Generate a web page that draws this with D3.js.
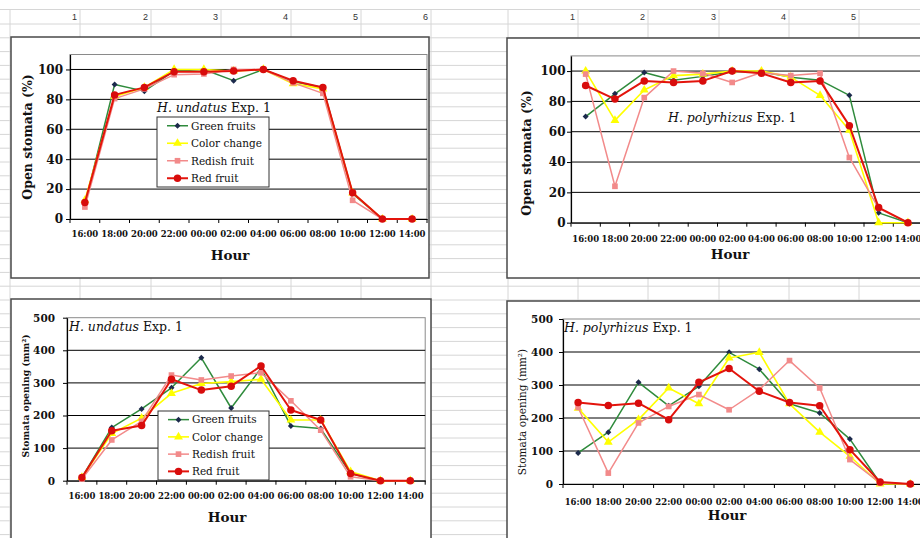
<!DOCTYPE html>
<html><head><meta charset="utf-8">
<script src="https://cdn.jsdelivr.net/npm/d3@7"></script>
<style>body{margin:0;background:#fff;} svg{display:block;}</style>
</head><body>
<svg id="c" width="920" height="538"></svg>
<script>
const hours = ["16:00","18:00","20:00","22:00","00:00","02:00","04:00","06:00","08:00","10:00","12:00","14:00"];
const seriesNames = ["Green fruits","Color change","Redish fruit","Red fruit"];
const sheetColumnLabels = ["1","2","3","4","5","6"];

// H. undatus, open stomata (%)
const undatusOpenGreen  = [10, 90, 85.5, 99, 100, 92.5, 100, 92, 88, 17, 0, 0];
const undatusOpenColor  = [12.5, 82, 88, 100, 100, 99, 100, 90.5, 87, 17.5, 0, 0];
const undatusOpenRedish = [8, 80.5, 87, 96.5, 97, 100, 100, 91, 84, 12.5, 0, 0];
const undatusOpenRed    = [11, 83, 88, 98.5, 98.5, 99, 100, 92.5, 88, 17.5, 0, 0];

// H. polyrhizus, open stomata (%)
const polyOpenGreen  = [70, 85, 99, 94, 96.5, 99.5, 99.5, 96, 94, 84, 6.5, 0];
const polyOpenColor  = [100, 67.5, 87.5, 97, 98, 100, 100, 96, 84, 61, 0, 0];
const polyOpenRedish = [98, 24, 82.5, 100, 98.5, 92.5, 99, 97, 98.5, 43, 9.5, 0];
const polyOpenRed    = [90.5, 81.5, 93.5, 92.5, 93.5, 100, 98.5, 92.5, 93.5, 64, 10, 0];

// H. undatus, stomata opening (mm2)
const undatusAreaGreen  = [10, 163, 220, 285, 377, 223, 345, 168, 160, 22, 0, 0];
const undatusAreaColor  = [10, 145, 192, 268, 298, 304, 311, 186, 186, 28, 0, 0];
const undatusAreaRedish = [5, 125, 182, 324, 309, 321, 331, 245, 155, 12, 0, 0];
const undatusAreaRed    = [10, 153, 169, 311, 278, 290, 352, 217, 186, 22, 0, 0];

// H. polyrhizus, stomata opening (mm2)
const polyAreaGreen  = [94, 157, 308, 237, 296, 399, 348, 243, 215, 136, 3, 0];
const polyAreaColor  = [230, 127, 195, 291, 243, 382, 399, 243, 157, 84, 0, 0];
const polyAreaRedish = [232, 33, 185, 235, 271, 225, 286, 374, 291, 74, 3, 0];
const polyAreaRed    = [247, 238, 245, 195, 308, 350, 281, 247, 237, 104, 6, 0];

const pctTicks = [0, 20, 40, 60, 80, 100];
const areaTicks = [0, 100, 200, 300, 400, 500];

const styles = [
  {line:"#2f8b3c", fill:"#1c2a4c", sym:d3.symbolSquare, rot:45, size:18, w:1.5},
  {line:"#ffff00", fill:"#ffff00", sym:d3.symbolTriangle, rot:0, size:34, w:1.6},
  {line:"#f28a8a", fill:"#f28a8a", sym:d3.symbolSquare, rot:0, size:32, w:1.5},
  {line:"#e3140c", fill:"#d80c0c", sym:d3.symbolCircle, rot:0, size:44, w:2}
];

const SERIF = "'DejaVu Serif', serif";
const svg = d3.select("#c");

// ---------- spreadsheet background ----------
const sheet = svg.append("g");
const rowYs = d3.range(24, 540, 13.8);
const colXs = [10, 80, 151, 221, 291, 361, 431, 508, 578, 648, 719, 789, 859];
sheet.selectAll(".row").data([9.5].concat(rowYs)).join("line")
  .attr("x1", 0).attr("x2", 920).attr("y1", d => d).attr("y2", d => d)
  .attr("stroke", "#d6d6d6").attr("stroke-width", 1);
sheet.selectAll(".col").data(colXs).join("line")
  .attr("x1", d => d).attr("x2", d => d).attr("y1", 9.5).attr("y2", 538)
  .attr("stroke", "#d6d6d6").attr("stroke-width", 1);
const headerRight = [80, 151, 221, 291, 361, 431, 578, 648, 719, 789, 859];
const headerText = sheetColumnLabels.concat(sheetColumnLabels.slice(0, 5));
sheet.selectAll(".hd").data(headerRight).join("text")
  .attr("x", d => d - 3).attr("y", 20).attr("text-anchor", "end")
  .attr("font-family", "Arial, 'Liberation Sans', sans-serif").attr("font-size", 9)
  .attr("fill", "#333").text((d, i) => headerText[i]);

// ---------- charts ----------
const charts = [
  {box:[11,37,418,241], left:70, bw:29.75, yTop:54.5, yBase:219, ymax:110, ticks:pctTicks,
   data:[undatusOpenGreen, undatusOpenColor, undatusOpenRedish, undatusOpenRed],
   yLabelSize:12, yPad:3, xPad:12, yTitle:"Open stomata (%)", yTitleBold:true, yTitleSize:12.5,
   yTitlePos:[31.5,137], hourPos:[230,260], species:"H. undatus", titlePos:[157,112], legend:[157,117,112,70]},
  {box:[507,38,440,240], left:571, bw:29.3, yTop:55.9, yBase:222.7, ymax:110, ticks:pctTicks,
   data:[polyOpenGreen, polyOpenColor, polyOpenRedish, polyOpenRed],
   yLabelSize:12, yPad:1.5, xPad:13.3, yTitle:"Open stomata (%)", yTitleBold:true, yTitleSize:12.5,
   yTitlePos:[531,153], hourPos:[730,259], species:"H. polyrhizus", titlePos:[668,122], legend:null},
  {box:[11,299,420,260], left:67, bw:29.85, yTop:317.7, yBase:480.7, ymax:500, ticks:areaTicks,
   data:[undatusAreaGreen, undatusAreaColor, undatusAreaRedish, undatusAreaRed],
   yLabelSize:10.5, yPad:8, xPad:12.3, yTitle:"Stomata opening (mm²)", yTitleBold:true, yTitleSize:9.2,
   yTitlePos:[29,396], hourPos:[227,522], species:"H. undatus", titlePos:[69,331], legend:[158,411,111,69]},
  {box:[507,301,440,260], left:563, bw:30.2, yTop:319, yBase:484, ymax:500, ticks:areaTicks,
   data:[polyAreaGreen, polyAreaColor, polyAreaRedish, polyAreaRed],
   yLabelSize:10.5, yPad:6, xPad:15, yTitle:"Stomata opening (mm²)", yTitleBold:false, yTitleSize:10.5,
   yTitlePos:[526,412], hourPos:[727,520], species:"H. polyrhizus", titlePos:[564,332], legend:null}
];

function drawChart(cfg) {
  const g = svg.append("g");
  g.append("rect").attr("x", cfg.box[0]).attr("y", cfg.box[1])
    .attr("width", cfg.box[2]).attr("height", cfg.box[3])
    .attr("fill", "#fff").attr("stroke", "#4a4a4a").attr("stroke-width", 1.5);

  const x = d3.scaleBand().domain(hours).range([cfg.left, cfg.left + cfg.bw * hours.length]);
  const y = d3.scaleLinear().domain([0, cfg.ymax]).range([cfg.yBase, cfg.yTop]);
  const right = x.range()[1];

  // plot area border
  g.append("rect").attr("x", cfg.left).attr("y", y(cfg.ymax))
    .attr("width", right - cfg.left).attr("height", y(0) - y(cfg.ymax))
    .attr("fill", "none").attr("stroke", "#8a8a8a").attr("stroke-width", 1);

  // gridlines
  g.selectAll(".grid").data(cfg.ticks.filter(t => t > 0 && t < cfg.ymax)).join("line")
    .attr("x1", cfg.left).attr("x2", right).attr("y1", d => y(d)).attr("y2", d => y(d))
    .attr("stroke", "#000").attr("stroke-width", 1);

  // y axis
  const ya = g.append("g").attr("transform", `translate(${cfg.left},0)`)
    .call(d3.axisLeft(y).tickValues(cfg.ticks).tickSizeInner(4).tickSizeOuter(0).tickPadding(cfg.yPad));
  ya.select(".domain").attr("stroke", "#000").attr("stroke-width", 1.2);
  ya.selectAll(".tick line").attr("stroke", "#000");
  ya.selectAll("text").attr("font-family", SERIF).attr("font-weight", "bold")
    .attr("font-size", cfg.yLabelSize).attr("fill", "#111");

  // x axis
  const xa = g.append("g").attr("transform", `translate(0,${cfg.yBase})`)
    .call(d3.axisBottom(x).tickSize(0).tickPadding(cfg.xPad));
  xa.select(".domain").attr("stroke", "#000").attr("stroke-width", 1.2);
  xa.selectAll("text").attr("font-family", SERIF).attr("font-weight", "bold")
    .attr("font-size", 8.5).attr("fill", "#111");
  const edges = hours.map(h => x(h)).concat([right]);
  g.selectAll(".xt").data(edges).join("line")
    .attr("x1", d => d).attr("x2", d => d).attr("y1", cfg.yBase).attr("y2", cfg.yBase + 4)
    .attr("stroke", "#000");

  // series
  const cx = (d, i) => x(hours[i]) + x.bandwidth() / 2;
  cfg.data.forEach((vals, si) => {
    const st = styles[si];
    g.append("path").datum(vals)
      .attr("d", d3.line().x(cx).y(d => y(d)))
      .attr("fill", "none").attr("stroke", st.line).attr("stroke-width", st.w)
      .attr("stroke-linejoin", "round");
    g.selectAll(null).data(vals).join("path")
      .attr("transform", (d, i) => `translate(${cx(d, i)},${y(d)}) rotate(${st.rot})`)
      .attr("d", d3.symbol().type(st.sym).size(st.size))
      .attr("fill", st.fill);
  });

  // axis titles
  g.append("text").attr("x", cfg.hourPos[0]).attr("y", cfg.hourPos[1])
    .attr("text-anchor", "middle").attr("font-family", SERIF).attr("font-weight", "bold")
    .attr("font-size", 13.5).attr("fill", "#111").text("Hour");
  g.append("text")
    .attr("transform", `translate(${cfg.yTitlePos[0]},${cfg.yTitlePos[1]}) rotate(-90)`)
    .attr("text-anchor", "middle").attr("font-family", SERIF)
    .attr("font-weight", cfg.yTitleBold ? "bold" : "normal")
    .attr("font-size", cfg.yTitleSize).attr("fill", "#111").text(cfg.yTitle);

  // chart title
  const t = g.append("text").attr("x", cfg.titlePos[0]).attr("y", cfg.titlePos[1])
    .attr("font-family", SERIF).attr("font-size", 12.5).attr("fill", "#111");
  t.append("tspan").attr("font-style", "italic").text(cfg.species);
  t.append("tspan").text(" Exp. 1");

  // legend
  if (cfg.legend) {
    const [lx, ly, lw, lh] = cfg.legend;
    const lg = g.append("g");
    lg.append("rect").attr("x", lx).attr("y", ly).attr("width", lw).attr("height", lh)
      .attr("fill", "#fff").attr("stroke", "#333").attr("stroke-width", 1);
    const step = lh / 4;
    seriesNames.forEach((name, si) => {
      const st = styles[si];
      const yy = ly + step * (si + 0.5);
      lg.append("line").attr("x1", lx + 10).attr("x2", lx + 31).attr("y1", yy).attr("y2", yy)
        .attr("stroke", st.line).attr("stroke-width", st.w);
      lg.append("path").attr("transform", `translate(${lx + 20.5},${yy}) rotate(${st.rot})`)
        .attr("d", d3.symbol().type(st.sym).size(st.size)).attr("fill", st.fill);
      lg.append("text").attr("x", lx + 34).attr("y", yy + 3.8)
        .attr("font-family", SERIF).attr("font-size", 10.5).attr("fill", "#111").text(name);
    });
  }
}

charts.forEach(drawChart);
</script>
</body></html>
